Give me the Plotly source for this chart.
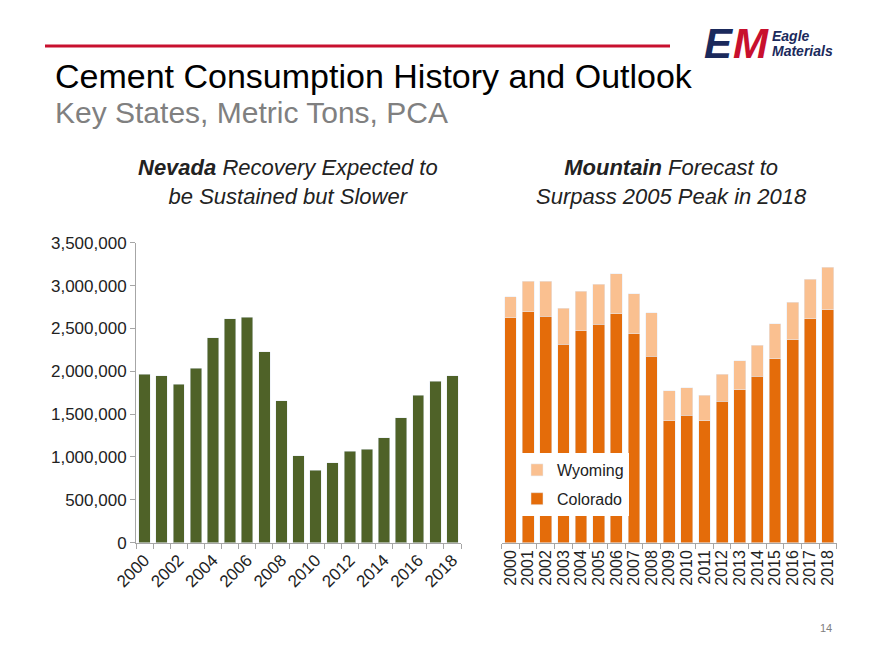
import plotly.graph_objects as go

years = list(range(2000, 2019))
nevada = [1968000, 1948000, 1848000, 2034000, 2392000, 2610000, 2633000, 2228000, 1657000,
          1012000, 845000, 930000, 1066000, 1089000, 1222000, 1459000, 1720000, 1883000, 1948000]
colorado = [2625000, 2692000, 2641000, 2315000, 2470000, 2548000, 2672000, 2435000, 2178000,
            1420000, 1486000, 1420000, 1653000, 1785000, 1941000, 2147000, 2368000, 2610000, 2718000]
wyoming = [245000, 361000, 412000, 423000, 463000, 470000, 463000, 467000, 502000,
           350000, 322000, 300000, 315000, 338000, 365000, 405000, 440000, 463000, 495000]

W, H = 880, 660
FONT = "Arial, Liberation Sans, sans-serif"
GREEN = "#4F6228"
ORANGE = "#E46C0A"
LIGHT = "#FAC090"
AXIS = "#A6A6A6"

def px(x):
    return x / W

def py(y):
    return 1 - y / H

fig = go.Figure()
fig.add_trace(go.Bar(x=years, y=nevada, marker_color=GREEN, showlegend=False,
                     xaxis="x", yaxis="y"))
fig.add_trace(go.Bar(x=years, y=colorado, marker_color=ORANGE, name="Colorado",
                     xaxis="x2", yaxis="y2", legendgroup="co", legendrank=2))
fig.add_trace(go.Bar(x=years, y=wyoming, marker_color=LIGHT, name="Wyoming",
                     xaxis="x2", yaxis="y2", legendgroup="wy", legendrank=1))

ydom = [py(542.7), py(242.7)]
fig.update_layout(
    width=W, height=H, margin=dict(l=0, r=0, t=0, b=0),
    paper_bgcolor="white", plot_bgcolor="white",
    barmode="stack", bargap=0.33,
    font=dict(family=FONT, color="#222222"),
    xaxis=dict(domain=[px(136), px(461)], range=[1999.5, 2018.5], tickmode="linear",
               tick0=2000, dtick=2, tickangle=-45, ticks="", showgrid=False,
               showline=True, linecolor=AXIS, linewidth=1, zeroline=False,
               automargin=False,
               tickfont=dict(size=17, color="#222222"),
               minor=dict(tick0=1999.5, dtick=1, ticks="outside", ticklen=5,
                          tickcolor=AXIS, showgrid=False),
               anchor="y"),
    yaxis=dict(domain=ydom, range=[0, 3500000], tickmode="linear", tick0=0, dtick=500000,
               tickformat=",", ticks="outside", ticklen=5, tickcolor=AXIS,
               showline=True, linecolor=AXIS, linewidth=1, showgrid=False, zeroline=False,
               automargin=False,
               tickfont=dict(size=17, color="#222222"), anchor="x"),
    xaxis2=dict(domain=[px(501.7), px(836.7)], range=[1999.5, 2018.5], tickmode="linear",
                tick0=2000, dtick=1, tickangle=-90, ticks="", showgrid=False,
                showline=True, linecolor=AXIS, linewidth=1, zeroline=False,
                automargin=False,
                tickfont=dict(size=16, color="#222222"),
                minor=dict(tick0=1999.5, dtick=1, ticks="outside", ticklen=5,
                           tickcolor=AXIS, showgrid=False),
                anchor="y2"),
    yaxis2=dict(domain=ydom, range=[0, 3500000], visible=False, anchor="x2",
                automargin=False),
    legend=dict(x=px(517), y=py(453), xanchor="left", yanchor="top",
                bgcolor="white", traceorder="grouped", tracegroupgap=5,
                font=dict(size=16, color="#222222"), borderwidth=0),
)

# Red rule
fig.add_shape(type="line", xref="paper", yref="paper", x0=px(45), x1=px(670),
              y0=py(46), y1=py(46), line=dict(color="#C8102E", width=3))

ann = []
ann.append(dict(text="Cement Consumption History and Outlook", x=px(53), y=py(76),
                xanchor="left", yanchor="middle", showarrow=False,
                font=dict(size=34, color="#000000", family=FONT)))
ann.append(dict(text="Key States, Metric Tons, PCA", x=px(53), y=py(113),
                xanchor="left", yanchor="middle", showarrow=False,
                font=dict(size=30, color="#808080", family=FONT)))
ann.append(dict(text="<b><i>Nevada</i></b><i> Recovery Expected to</i><br><i>be Sustained but Slower</i>",
                x=px(288), y=py(182), xanchor="center", yanchor="middle", showarrow=False,
                align="center", font=dict(size=22, color="#222222", family=FONT)))
ann.append(dict(text="<b><i>Mountain</i></b><i> Forecast to</i><br><i>Surpass 2005 Peak in 2018</i>",
                x=px(671), y=py(182), xanchor="center", yanchor="middle", showarrow=False,
                align="center", font=dict(size=22, color="#222222", family=FONT)))
ann.append(dict(text="14", x=px(826), y=py(628), xanchor="center", yanchor="middle",
                showarrow=False, font=dict(size=11, color="#808080", family=FONT)))
# Logo
ann.append(dict(text="<b><i>E</i></b>", x=px(702), y=py(44), xanchor="left", yanchor="middle",
                showarrow=False, font=dict(size=42, color="#1B2A5C", family=FONT)))
ann.append(dict(text="<b><i>M</i></b>", x=px(731), y=py(44), xanchor="left", yanchor="middle",
                showarrow=False, font=dict(size=42, color="#C8102E", family=FONT)))
ann.append(dict(text="<b><i>Eagle</i></b>", x=px(770), y=py(36), xanchor="left", yanchor="middle",
                showarrow=False, font=dict(size=14, color="#1B2A5C", family=FONT)))
ann.append(dict(text="<b><i>Materials</i></b>", x=px(770), y=py(51), xanchor="left", yanchor="middle",
                showarrow=False, font=dict(size=14, color="#1B2A5C", family=FONT)))
for a in ann:
    a.update(xref="paper", yref="paper")
fig.update_layout(annotations=ann)

fig.write_html("out.html")
